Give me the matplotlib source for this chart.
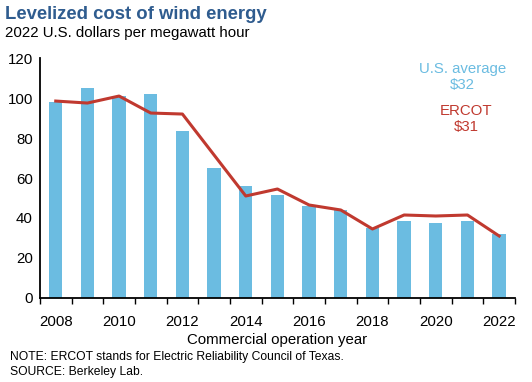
import matplotlib
matplotlib.use("Agg")
import matplotlib.pyplot as plt
import numpy as np

plt.rcParams["font.family"] = ["Liberation Sans", "DejaVu Sans"]

years = list(range(2008, 2023))
us_average = [98, 105, 101, 102, 83.5, 65, 56, 51.5, 46, 44, 35, 38.5, 37.5, 38.5, 32]
ercot = [98.5, 97.5, 101, 92.5, 92, 71.5, 51, 54.5, 46.5, 44, 34.5, 41.5, 41, 41.5, 31]

bar_color = "#6BBCE1"
line_color = "#C0392F"

fig = plt.figure(figsize=(5.32, 3.82), dpi=100)
ax = fig.add_axes([0.075, 0.22, 0.893, 0.628])

x = np.arange(len(years))
ax.bar(x, us_average, width=0.42, color=bar_color, zorder=2)
ax.plot(x, ercot, color=line_color, linewidth=2.2, zorder=3)

ax.set_xlim(-0.5, len(years) - 0.5)
ax.set_ylim(0, 120)
ax.set_yticks(range(0, 121, 20))
ax.tick_params(axis="y", length=0, labelsize=10.8, pad=5)

# category boundaries as tick marks, labels every other year
ax.set_xticks(np.arange(-0.5, len(years), 1.0), minor=False)
ax.set_xticklabels([])
ax.tick_params(axis="x", which="major", length=4, width=1, direction="out")
ax.set_xticks(x[::2], minor=True)
ax.set_xticklabels([str(y) for y in years[::2]], minor=True, fontsize=10.8)
ax.tick_params(axis="x", which="minor", length=0, pad=12)

for s in ["top", "right"]:
    ax.spines[s].set_visible(False)
ax.spines["left"].set_linewidth(1.3)
ax.spines["bottom"].set_linewidth(1.3)

ax.set_xlabel("Commercial operation year", fontsize=10.8, labelpad=3)

ax.text(12.85, 118, "U.S. average\n$32", color=bar_color, fontsize=10.8,
        ha="center", va="top", linespacing=1.15)
ax.text(12.95, 97, "ERCOT\n$31", color=line_color, fontsize=10.8,
        ha="center", va="top", linespacing=1.15)

fig.text(0.009, 0.963, "Levelized cost of wind energy", fontsize=13.3,
         fontweight="bold", color="#2F5C8F", va="center")
fig.text(0.009, 0.913, "2022 U.S. dollars per megawatt hour", fontsize=10.8,
         color="black", va="center")
fig.text(0.019, 0.066, "NOTE: ERCOT stands for Electric Reliability Council of Texas.",
         fontsize=8.7, va="center")
fig.text(0.019, 0.025, "SOURCE: Berkeley Lab.", fontsize=8.7, va="center")

fig.savefig("out.png", dpi=100)
